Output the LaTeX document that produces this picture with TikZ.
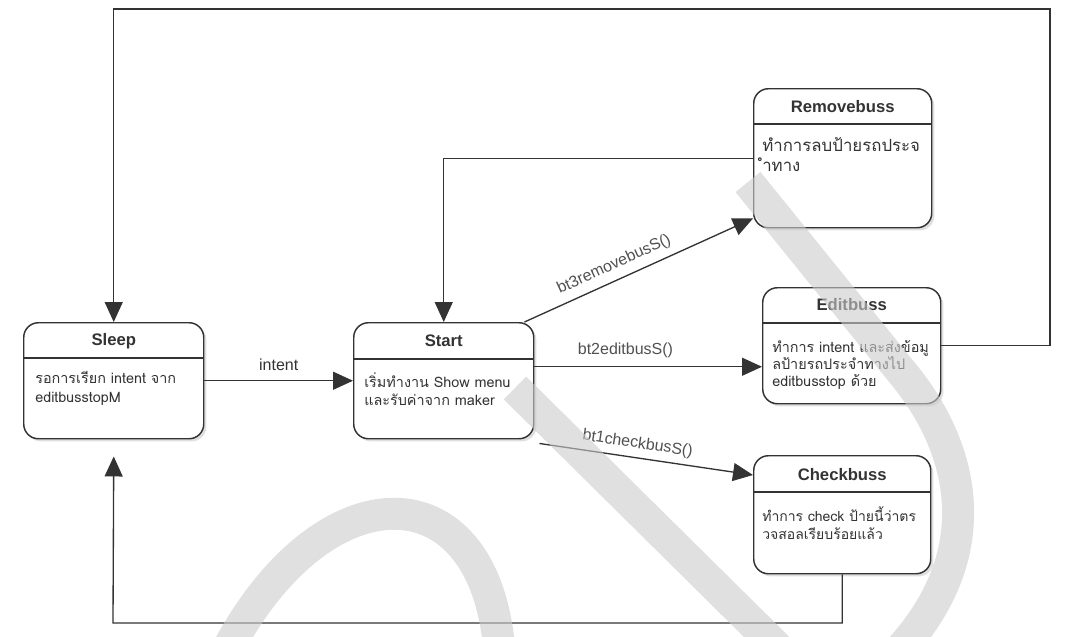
\documentclass[tikz,border=0pt]{standalone}
\usepackage{fontspec}
\setmainfont{Liberation Sans}
\newfontfamily\thaifont[Script=Thai]{Loma}
\usepackage{tikz}
\usetikzlibrary{arrows.meta,positioning,shadows,calc}

\def\pxu{0.75pt}
\definecolor{inkline}{RGB}{51,51,51}
\definecolor{labelgray}{RGB}{80,80,80}

\tikzset{
  statebox/.style={draw=inkline, line width=1.1pt, rounded corners=11pt, fill=white,
    anchor=north west, inner sep=0pt,
    drop shadow={opacity=0.25, shadow xshift=2pt, shadow yshift=-2pt}},
  statetitle/.style={font=\fontsize{12.5}{14}\selectfont\bfseries, text=inkline},
  statebody/.style={font=\thaifont\fontsize{10.8}{14}\selectfont, align=left,
    anchor=north west, inner sep=0pt, text=inkline},
  divline/.style={draw=inkline, line width=1pt},
  flow/.style={draw=inkline, line width=1pt, -{Triangle[length=15pt, width=13.5pt]}},
  edgelabel/.style={font=\fontsize{12}{13}\selectfont, text=labelgray},
  brush/.style={draw=black!20, opacity=0.6, line width=24pt},
}

\begin{document}
\begin{tikzpicture}[x=\pxu, y=-\pxu, >=Triangle]
    \useasboundingbox (0,0) rectangle (1067,636);

    % States
    \node[statebox, minimum width={180*\pxu}, minimum height={116*\pxu}] (sleep) at (23,322) {};
    \node[statetitle] at ([yshift={-19*\pxu}]sleep.north) {Sleep};
    \draw[divline] ([yshift={-36*\pxu}]sleep.north west) -- ([yshift={-36*\pxu}]sleep.north east);
    \node[statebody] at ([xshift={12*\pxu}, yshift={-49*\pxu}]sleep.north west)
        {รอการเรียก intent จาก\\editbusstopM};

    \node[statebox, minimum width={180*\pxu}, minimum height={116*\pxu}] (start) at (353,322) {};
    \node[statetitle] at ([yshift={-19*\pxu}]start.north) {Start};
    \draw[divline] ([yshift={-37*\pxu}]start.north west) -- ([yshift={-37*\pxu}]start.north east);
    \node[statebody] at ([xshift={11*\pxu}, yshift={-50*\pxu}]start.north west)
        {เริ่มทำงาน Show menu\\และรับค่าจาก maker};

    \node[statebox, minimum width={178*\pxu}, minimum height={139*\pxu}] (removebuss) at (753,88) {};
    \node[statetitle] at ([yshift={-19*\pxu}]removebuss.north) {Removebuss};
    \draw[divline] ([yshift={-36*\pxu}]removebuss.north west) -- ([yshift={-36*\pxu}]removebuss.north east);
    \node[statebody, font=\thaifont\fontsize{12.6}{15}\selectfont]
        at ([xshift={9*\pxu}, yshift={-49*\pxu}]removebuss.north west)
        {ทำการลบป้ายรถประจ\\ำทาง};

    \node[statebox, minimum width={178*\pxu}, minimum height={116*\pxu}] (editbuss) at (762,287) {};
    \node[statetitle] at ([yshift={-18*\pxu}]editbuss.north) {Editbuss};
    \draw[divline] ([yshift={-36*\pxu}]editbuss.north west) -- ([yshift={-36*\pxu}]editbuss.north east);
    \node[statebody, font=\thaifont\fontsize{10.8}{12.75}\selectfont]
        at ([xshift={10*\pxu}, yshift={-53*\pxu}]editbuss.north west)
        {ทำการ intent และส่งข้อมู\\ลป้ายรถประจำทางไป\\editbusstop ด้วย};

    \node[statebox, minimum width={177*\pxu}, minimum height={118*\pxu}] (checkbuss) at (753,455) {};
    \node[statetitle] at ([yshift={-20*\pxu}]checkbuss.north) {Checkbuss};
    \draw[divline] ([yshift={-37*\pxu}]checkbuss.north west) -- ([yshift={-37*\pxu}]checkbuss.north east);
    \node[statebody, font=\thaifont\fontsize{10.5}{14}\selectfont]
        at ([xshift={9*\pxu}, yshift={-51*\pxu}]checkbuss.north west)
        {ทำการ check ป้ายนี้ว่าตร\\วจสอลเรียบร้อยแล้ว};

    % Corners of the loops
    \coordinate (topright) at (1050,9);
    \coordinate (bottomleft) at (113,623);

    % Transitions
    \draw[flow] (sleep.east) -- (start.west) node[midway, above=4pt, edgelabel, text=inkline] {intent};
    \draw[flow] ([yshift={14*\pxu}]start.east) -- ([yshift={-21*\pxu}]editbuss.west)
        node[pos=0.4, above=3pt, edgelabel] {bt2editbusS()};
    \draw[flow] ([xshift={-10*\pxu}]start.north east) -- ([yshift={10*\pxu}]removebuss.south west)
        node[pos=0.42, above=2pt, sloped, edgelabel] {bt3removebusS()};
    \draw[flow] ([xshift={5*\pxu}, yshift={-4*\pxu}]start.south east) -- ([yshift={-20*\pxu}]checkbuss.north west)
        node[pos=0.45, above=1pt, sloped, edgelabel] {bt1checkbusS()};
    \draw[flow] (removebuss.west) -| (start.north);
    \draw[flow] (editbuss.east) -| (topright) -| (sleep.north);
    \draw[flow] (checkbuss.south) |- (bottomleft) -- ([yshift={-17*\pxu}]sleep.south);

    % Brush strokes over the page
    \begin{scope}
        \clip (0,0) rectangle (1067,636);
        \draw[brush] (748,182) -- (900,370) .. controls (968,450) and (990,560) .. (890,660);
        \draw[brush] (515,388) -- (790,660);
        \draw[brush] (222,660) .. controls (320,465) and (490,465) .. (500,660);
    \end{scope}
\end{tikzpicture}
\end{document}
